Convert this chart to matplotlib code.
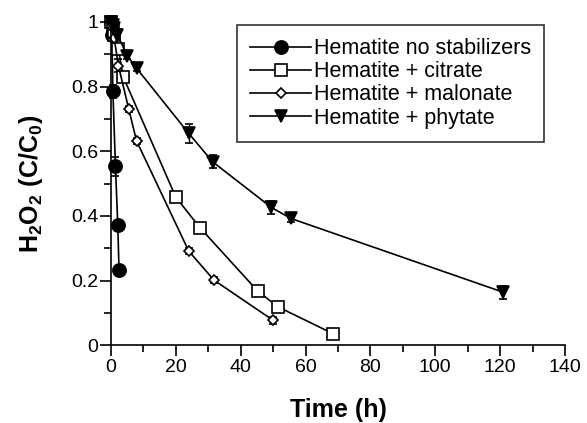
import numpy as np
import matplotlib.pyplot as plt
from matplotlib.ticker import MultipleLocator
from matplotlib.lines import Line2D

plt.rcParams['font.family'] = ['Liberation Sans', 'DejaVu Sans']
plt.rcParams['mathtext.fontset'] = 'custom'
plt.rcParams['mathtext.rm'] = 'Liberation Sans'
plt.rcParams['mathtext.bf'] = 'Liberation Sans:bold'

# Hematite, no stabilizers
t_none = [0, 0.3, 0.6, 1.4, 2.1, 2.5]
c_none = [1.0, 0.96, 0.785, 0.553, 0.372, 0.232]
e_none = [0.01, 0.01, 0.02, 0.03, 0.01, 0.01]

# Hematite + citrate
t_cit = [0, 0.5, 1.0, 2.3, 3.8, 20.0, 27.4, 45.2, 51.4, 68.4]
c_cit = [1.0, 0.98, 0.96, 0.915, 0.83, 0.458, 0.364, 0.168, 0.119, 0.036]
e_cit = [0.01, 0.01, 0.01, 0.01, 0.01, 0.01, 0.01, 0.01, 0.01, 0.01]

# Hematite + malonate
t_mal = [0, 0.5, 1.0, 2.3, 5.5, 7.9, 24.0, 31.8, 50.0]
c_mal = [1.0, 0.98, 0.95, 0.865, 0.73, 0.632, 0.291, 0.201, 0.077]
e_mal = [0.01, 0.01, 0.01, 0.02, 0.01, 0.01, 0.01, 0.01, 0.01]

# Hematite + phytate
t_phy = [0, 0.5, 1.0, 2.0, 5.1, 7.9, 24.0, 31.4, 49.5, 55.5, 120.9]
c_phy = [1.0, 0.99, 0.98, 0.96, 0.895, 0.857, 0.655, 0.567, 0.426, 0.392, 0.164]
e_phy = [0.01, 0.01, 0.01, 0.01, 0.01, 0.01, 0.03, 0.02, 0.02, 0.01, 0.02]

labels = ['Hematite no stabilizers', 'Hematite + citrate', 'Hematite + malonate', 'Hematite + phytate']
markers = ['o', 's', 'D', 'v']
fills = ['k', 'white', 'white', 'k']
sizes = [9.5, 8, 5, 8.5]

fig = plt.figure(figsize=(5.87, 4.23), dpi=100)
ax = fig.add_axes([0.189, 0.184, 0.7735, 0.764])

series = [(t_none, c_none, e_none), (t_cit, c_cit, e_cit), (t_mal, c_mal, e_mal), (t_phy, c_phy, e_phy)]
handles = []
for (t, c, e), m, f, s, lab in zip(series, markers, fills, sizes, labels):
    ax.errorbar(t, c, yerr=e, color='k', lw=1.2, marker=m, mfc=f, mec='k', mew=1.2, ms=s,
                capsize=3, elinewidth=1, clip_on=False)
    handles.append(Line2D([], [], color='k', lw=1.2, marker=m, mfc=f, mec='k', mew=1.2, ms=s, label=lab))

ax.set_xlim(0, 140)
ax.set_ylim(0, 1.0)
ax.xaxis.set_major_locator(MultipleLocator(20))
ax.xaxis.set_minor_locator(MultipleLocator(10))
ax.set_yticks([0, 0.2, 0.4, 0.6, 0.8, 1.0])
ax.set_yticklabels(['0', '0.2', '0.4', '0.6', '0.8', '1'])
ax.yaxis.set_minor_locator(MultipleLocator(0.1))
for s in ['top', 'right']:
    ax.spines[s].set_visible(False)
for s in ['left', 'bottom']:
    ax.spines[s].set_linewidth(1.2)
ax.tick_params(which='major', direction='out', length=8, width=1.2, labelsize=14, pad=2)
ax.tick_params(which='minor', direction='out', length=5, width=1.2)
ax.tick_params(axis='y', which='major', pad=1)

ax.set_xlabel('Time (h)', fontsize=18, fontweight='bold', labelpad=16)
ax.set_ylabel(r'$\mathbf{H_2O_2\ (C/C_0)}$', fontsize=18, labelpad=19)

leg = ax.legend(handles=handles, loc='upper left', bbox_to_anchor=(0.278, 0.99), fontsize=15.5,
                frameon=True, fancybox=False, edgecolor='k', handlelength=2.84, borderpad=0.6,
                labelspacing=0.1, handletextpad=0.15, borderaxespad=0)
leg.get_frame().set_linewidth(1.2)

fig.savefig('out.png', dpi=100)
